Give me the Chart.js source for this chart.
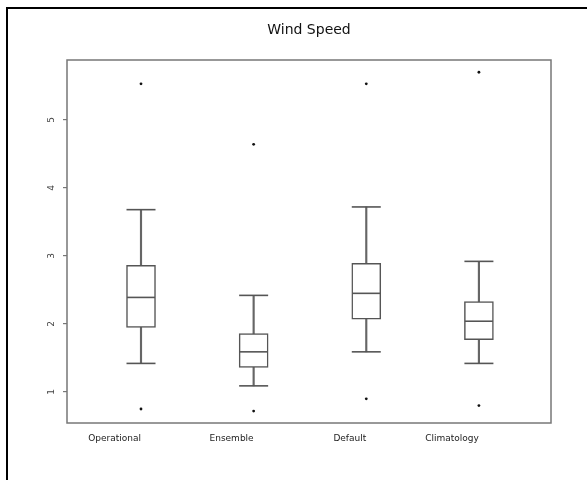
<!DOCTYPE html>
<html><head><meta charset="utf-8">
<script src="https://cdn.jsdelivr.net/npm/chart.js@4"></script>
<style>
html,body{margin:0;padding:0;background:#fff;overflow:hidden;width:587px;height:480px;}
#frame{position:absolute;left:6px;top:7px;width:600px;height:500px;border-left:2px solid #000;border-top:2px solid #000;}
#wrap{position:absolute;left:0;top:0;width:587px;height:480px;}
</style></head>
<body>
<div id="frame"></div>
<div id="wrap"><canvas id="c" width="587" height="480"></canvas></div>
<script>
const categories = ['Operational', 'Ensemble', 'Default', 'Climatology'];
const whiskerLow  = [1.42, 1.09, 1.59, 1.42];
const q1          = [1.95, 1.36, 2.07, 1.77];
const median      = [2.39, 1.59, 2.45, 2.04];
const q3          = [2.86, 1.86, 2.89, 2.33];
const whiskerHigh = [3.68, 2.42, 3.72, 2.92];
const outlierLow  = [0.75, 0.72, 0.90, 0.80];
const outlierHigh = [5.53, 4.64, 5.53, 5.70];
const yTicks = [1, 2, 3, 4, 5];

const pos = categories.map((c, i) => i + 1);
const stems = pos.map((x, i) => ({x, y: [whiskerLow[i], whiskerHigh[i]]}));
const boxes = pos.map((x, i) => ({x, y: [q1[i], q3[i]]}));
const caps = pos.map((x, i) => ({x, y: whiskerLow[i]})).concat(pos.map((x, i) => ({x, y: whiskerHigh[i]})));
const meds = pos.map((x, i) => ({x, y: median[i]}));
const outs = pos.map((x, i) => ({x, y: outlierLow[i]})).concat(pos.map((x, i) => ({x, y: outlierHigh[i]})));

const frameColor = '#777';
const boxColor = '#555';

const plotFrame = {
  id: 'plotFrame',
  afterDraw(chart) {
    const a = chart.chartArea, ctx = chart.ctx;
    ctx.save();
    ctx.strokeStyle = frameColor;
    ctx.lineWidth = 1.5;
    ctx.strokeRect(a.left, a.top, a.right - a.left, a.bottom - a.top);
    ctx.restore();
  }
};

new Chart(document.getElementById('c'), {
  type: 'bar',
  data: {
    datasets: [
      {type: 'bar', data: stems, backgroundColor: '#666', barThickness: 1.5, grouped: false, order: 4},
      {type: 'bar', data: boxes, backgroundColor: '#fff', borderColor: boxColor, borderWidth: 1.5, borderSkipped: false, barThickness: 29, grouped: false, order: 3},
      {type: 'scatter', data: caps, pointStyle: 'line', radius: 14.5, borderColor: boxColor, borderWidth: 1.6, order: 2},
      {type: 'scatter', data: meds, pointStyle: 'line', radius: 14, borderColor: boxColor, borderWidth: 1.6, order: 1},
      {type: 'scatter', data: outs, pointStyle: 'circle', radius: 1.4, backgroundColor: '#111', borderColor: '#111', borderWidth: 0, order: 0}
    ]
  },
  options: {
    responsive: false,
    animation: false,
    layout: {padding: {left: 0, right: 36, top: 0, bottom: 0}},
    plugins: {
      legend: {display: false},
      tooltip: {enabled: false},
      title: {
        display: true, fullSize: false, text: 'Wind Speed', color: '#111',
        font: {family: 'DejaVu Sans', size: 14, weight: 'normal'},
        padding: {top: 22, bottom: 21.2}
      }
    },
    scales: {
      x: {
        type: 'linear', min: 0.343, max: 4.64, offset: false,
        afterBuildTicks: s => { s.ticks = pos.map(v => ({value: v})); },
        afterFit: s => { s.height = 57; },
        grid: {display: false, drawTicks: false},
        border: {display: false},
        ticks: {
          align: 'end', padding: 10, autoSkip: false, maxRotation: 0,
          callback: v => categories[v - 1],
          font: {family: 'DejaVu Sans', size: 9}, color: '#222'
        }
      },
      y: {
        min: 0.544, max: 5.88,
        afterBuildTicks: s => { s.ticks = yTicks.map(v => ({value: v})); },
        afterFit: s => { s.width = 67; },
        grid: {drawOnChartArea: false, drawTicks: true, tickLength: 4, color: frameColor, lineWidth: 1.2},
        border: {display: false},
        ticks: {
          minRotation: 90, maxRotation: 90, crossAlign: 'center', padding: 8,
          font: {family: 'DejaVu Sans', size: 9}, color: '#444'
        }
      }
    }
  },
  plugins: [plotFrame]
});
</script>
</body></html>
